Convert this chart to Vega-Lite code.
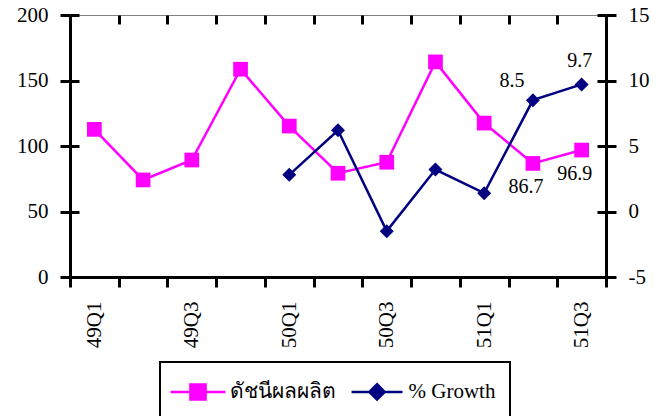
{
  "$schema": "https://vega.github.io/schema/vega-lite/v6.json",
  "width": 536,
  "height": 262,
  "autosize": {"type": "none"},
  "padding": {"left": 70, "top": 15, "right": 58, "bottom": 139},
  "background": "white",
  "config": {
    "font": "Liberation Serif, Times New Roman, serif",
    "view": {"stroke": "#808080", "strokeWidth": 1},
    "axis": {
      "labelFont": "Liberation Serif, Times New Roman, serif",
      "labelFontSize": 21,
      "labelColor": "black",
      "domainColor": "black",
      "domainWidth": 3,
      "tickColor": "black",
      "tickWidth": 3,
      "tickSize": 10,
      "labelPadding": 12,
      "grid": true,
      "gridColor": "black",
      "gridWidth": 3,
      "gridOpacity": 1,
      "title": null
    }
  },
  "data": {
    "values": [
      {"q": "49Q1", "series": "ดัชนีผลผลิต", "value": 112.7, "label": ""},
      {"q": "49Q2", "series": "ดัชนีผลผลิต", "value": 74.1, "label": ""},
      {"q": "49Q3", "series": "ดัชนีผลผลิต", "value": 89.3, "label": ""},
      {"q": "49Q4", "series": "ดัชนีผลผลิต", "value": 158.6, "label": ""},
      {"q": "50Q1", "series": "ดัชนีผลผลิต", "value": 115.2, "label": ""},
      {"q": "50Q2", "series": "ดัชนีผลผลิต", "value": 79.2, "label": ""},
      {"q": "50Q3", "series": "ดัชนีผลผลิต", "value": 87.6, "label": ""},
      {"q": "50Q4", "series": "ดัชนีผลผลิต", "value": 164.2, "label": ""},
      {"q": "51Q1", "series": "ดัชนีผลผลิต", "value": 117.5, "label": ""},
      {"q": "51Q2", "series": "ดัชนีผลผลิต", "value": 86.7, "label": "86.7"},
      {"q": "51Q3", "series": "ดัชนีผลผลิต", "value": 96.9, "label": "96.9"},
      {"q": "50Q1", "series": "% Growth", "value": 2.8, "label": ""},
      {"q": "50Q2", "series": "% Growth", "value": 6.2, "label": ""},
      {"q": "50Q3", "series": "% Growth", "value": -1.5, "label": ""},
      {"q": "50Q4", "series": "% Growth", "value": 3.2, "label": ""},
      {"q": "51Q1", "series": "% Growth", "value": 1.4, "label": ""},
      {"q": "51Q2", "series": "% Growth", "value": 8.5, "label": "8.5"},
      {"q": "51Q3", "series": "% Growth", "value": 9.7, "label": "9.7"}
    ]
  },
  "encoding": {
    "x": {
      "field": "q",
      "type": "ordinal",
      "sort": ["49Q1","49Q2","49Q3","49Q4","50Q1","50Q2","50Q3","50Q4","51Q1","51Q2","51Q3"],
      "scale": {"type": "band", "paddingInner": 0, "paddingOuter": 0},
      "axis": {
        "labelAngle": -90,
        "tickBand": "extent",
        "labelPadding": 14,
        "gridDash": [9, 3000],
        "labelExpr": "indexof(['49Q1','49Q3','50Q1','50Q3','51Q1','51Q3'], datum.value) >= 0 ? datum.value : ''"
      }
    }
  },
  "layer": [
    {
      "transform": [{"filter": "datum.series === 'ดัชนีผลผลิต'"}],
      "encoding": {
        "y": {
          "field": "value",
          "type": "quantitative",
          "scale": {"domain": [0, 200], "nice": false, "zero": false},
          "axis": {"orient": "left", "values": [0, 50, 100, 150, 200], "gridDash": [9, 518, 9, 3000]}
        }
      },
      "layer": [
        {
          "mark": {"type": "line", "strokeWidth": 2.5},
          "encoding": {
            "color": {
              "field": "series",
              "type": "nominal",
              "scale": {"domain": ["ดัชนีผลผลิต", "% Growth"], "range": ["#FF00FF", "#000080"]},
              "legend": {
                "orient": "none",
                "legendX": 90,
                "legendY": 347,
                "direction": "horizontal",
                "title": null,
                "padding": 14,
                "strokeColor": "black",
                "fillColor": "white",
                "labelFont": "Liberation Serif, Times New Roman, serif",
                "labelFontSize": 21,
                "labelColor": "black",
                "symbolSize": 784,
                "symbolOffset": 8.5,
                "symbolStrokeWidth": 2.5,
                "labelOffset": 16,
                "columnPadding": 10,
                "encode": {
                  "legend": {"update": {"strokeWidth": {"value": 2}}},
                  "symbols": {
                    "update": {
                      "shape": {"signal": "datum.value === 'ดัชนีผลผลิต' ? 'M-1.96,0H1.96M-0.54,-0.54H0.54V0.54H-0.54Z' : 'M-1.82,0H1.82M0,-0.55L0.55,0L0,0.55L-0.55,0Z'"},
                      "fill": {"signal": "datum.value === 'ดัชนีผลผลิต' ? '#FF00FF' : '#000080'"},
                      "stroke": {"signal": "datum.value === 'ดัชนีผลผลิต' ? '#FF00FF' : '#000080'"},
                      "strokeWidth": {"value": 2.5},
                      "opacity": {"value": 1},
                      "fillOpacity": {"value": 1}
                    }
                  }
                }
              }
            }
          }
        },
        {
          "mark": {"type": "point", "shape": "square", "filled": true, "size": 216, "color": "#FF00FF", "opacity": 1}
        },
        {
          "transform": [{"filter": "datum.label !== ''"}],
          "mark": {"type": "text", "font": "Liberation Serif, Times New Roman, serif", "fontSize": 20, "color": "black", "dx": -7, "dy": 24, "align": "center", "baseline": "middle"},
          "encoding": {"text": {"field": "label"}}
        }
      ]
    },
    {
      "transform": [{"filter": "datum.series === '% Growth'"}],
      "encoding": {
        "y": {
          "field": "value",
          "type": "quantitative",
          "scale": {"domain": [-5, 15], "nice": false, "zero": false},
          "axis": {"orient": "right", "values": [-5, 0, 5, 10, 15], "gridDash": [9, 518, 9, 3000], "labelExpr": "datum.value + ''"}
        }
      },
      "layer": [
        {
          "mark": {"type": "line", "strokeWidth": 2.5},
          "encoding": {
            "color": {
              "field": "series",
              "type": "nominal",
              "scale": {"domain": ["ดัชนีผลผลิต", "% Growth"], "range": ["#FF00FF", "#000080"]}
            }
          }
        },
        {
          "mark": {"type": "point", "shape": "diamond", "filled": true, "size": 196, "color": "#000080", "opacity": 1}
        },
        {
          "transform": [{"filter": "datum.label === '8.5'"}],
          "mark": {"type": "text", "font": "Liberation Serif, Times New Roman, serif", "fontSize": 20, "color": "black", "dx": -21, "dy": -19, "align": "center", "baseline": "middle"},
          "encoding": {"text": {"field": "label"}}
        },
        {
          "transform": [{"filter": "datum.label === '9.7'"}],
          "mark": {"type": "text", "font": "Liberation Serif, Times New Roman, serif", "fontSize": 20, "color": "black", "dx": -2, "dy": -23, "align": "center", "baseline": "middle"},
          "encoding": {"text": {"field": "label"}}
        }
      ]
    }
  ],
  "resolve": {"scale": {"y": "independent"}}
}
